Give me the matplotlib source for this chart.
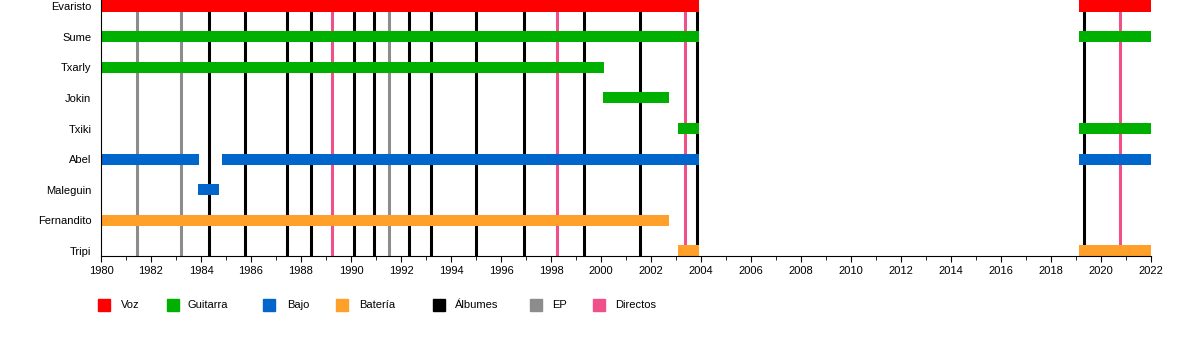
import matplotlib.pyplot as plt
from matplotlib.patches import Rectangle
from matplotlib.ticker import MultipleLocator

plt.rcParams['font.family'] = ['Liberation Sans', 'DejaVu Sans']

# band members, top to bottom
members = ['Evaristo', 'Sume', 'Txarly', 'Jokin', 'Txiki', 'Abel', 'Maleguin', 'Fernandito', 'Tripi']

# (member, start, end, role)
periods = [
    ('Evaristo', 1980.0, 2003.92, 'Voz'),
    ('Evaristo', 2019.12, 2022.0, 'Voz'),
    ('Sume', 1980.0, 2003.92, 'Guitarra'),
    ('Sume', 2019.12, 2022.0, 'Guitarra'),
    ('Txarly', 1980.0, 2000.1, 'Guitarra'),
    ('Jokin', 2000.08, 2002.7, 'Guitarra'),
    ('Txiki', 2003.08, 2003.92, 'Guitarra'),
    ('Txiki', 2019.12, 2022.0, 'Guitarra'),
    ('Abel', 1980.0, 1983.92, 'Bajo'),
    ('Abel', 1984.84, 2003.92, 'Bajo'),
    ('Abel', 2019.12, 2022.0, 'Bajo'),
    ('Maleguin', 1983.88, 1984.7, 'Bajo'),
    ('Fernandito', 1980.0, 2002.7, 'Batería'),
    ('Tripi', 2003.08, 2003.92, 'Batería'),
    ('Tripi', 2019.12, 2022.0, 'Batería'),
]

albumes = [1984.3, 1985.77, 1987.45, 1988.4, 1990.13, 1990.9, 1992.3, 1993.2,
           1995.0, 1996.93, 1999.32, 2001.55, 2003.83, 2019.33]
eps = [1981.44, 1983.2, 1991.5]
directos = [1989.25, 1998.24, 2003.37, 2020.77]

legend_labels = ['Voz', 'Guitarra', 'Bajo', 'Batería', 'Álbumes', 'EP', 'Directos']
colors = {
    'Voz': '#ff0000',
    'Guitarra': '#00b000',
    'Bajo': '#0066cc',
    'Batería': '#ffa02a',
    'Álbumes': '#000000',
    'EP': '#8c8c8c',
    'Directos': '#f0508a',
}

fig = plt.figure(figsize=(12, 3.56), dpi=100)
ax = fig.add_axes([101 / 1200, 1 - 256 / 356, 1050 / 1200, 256 / 356])

for x in eps:
    ax.axvline(x, color=colors['EP'], lw=2.2, zorder=1)
for x in albumes:
    ax.axvline(x, color=colors['Álbumes'], lw=2.2, zorder=1)
for x in directos:
    ax.axvline(x, color=colors['Directos'], lw=2.2, zorder=1)

for name, start, end, role in periods:
    row = members.index(name)
    ax.barh(row, end - start, left=start, height=0.36, color=colors[role], zorder=2)

ax.set_xlim(1980, 2022)
ax.set_ylim(8.163, -0.196)
ax.set_yticks(range(len(members)))
ax.set_yticklabels(members, fontsize=8)
ax.tick_params(axis='y', length=0, pad=7)
ax.xaxis.set_major_locator(MultipleLocator(2))
ax.xaxis.set_minor_locator(MultipleLocator(1))
ax.tick_params(axis='x', which='major', length=4.5, labelsize=8, pad=3)
ax.tick_params(axis='x', which='minor', length=3)
for s in ['top', 'right']:
    ax.spines[s].set_visible(False)

# legend along the bottom
legend_x = [98, 167, 263, 336, 433, 530, 593]
text_x = [121, 188, 287, 359, 455, 552, 615]
for lab, px, tx in zip(legend_labels, legend_x, text_x):
    fig.patches.append(Rectangle((px / 1200, 1 - 311 / 356), 12 / 1200, 12 / 356,
                                 transform=fig.transFigure, color=colors[lab]))
    fig.text(tx / 1200, 1 - 305 / 356, lab, fontsize=8, va='center', ha='left')

fig.savefig('out.png', dpi=100)
